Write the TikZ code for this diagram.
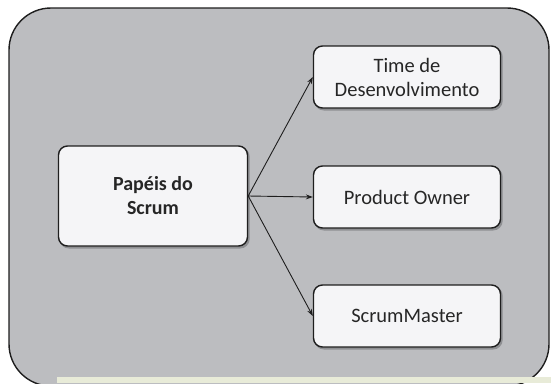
\documentclass[tikz,border=0pt]{standalone}
\usepackage{fontspec}
\setmainfont{Carlito}
\usetikzlibrary{arrows.meta}
\definecolor{panelgray}{HTML}{BCBDC0}
\definecolor{boxfill}{HTML}{F5F5F7}
\definecolor{stripcol}{HTML}{E8EBD8}
\definecolor{linecol}{HTML}{1E1E1E}
\definecolor{shadowcol}{HTML}{8E8F92}
\begin{document}
\begin{tikzpicture}[x=1pt,y=-1pt,
  rolebox/.style={draw=linecol,line width=1.4pt,fill=boxfill,rounded corners=9pt,
    minimum width=187pt,minimum height=62pt,align=center,font=\fontsize{20.5}{24}\selectfont,
    text=black!85,
    preaction={draw=shadowcol,fill=shadowcol,line width=1.4pt,transform canvas={shift={(1.5pt,-1.8pt)}}}},
  link/.style={draw=linecol,line width=0.9pt,-{Stealth[length=7pt,width=5pt]}}]
\useasboundingbox (0,0) rectangle (551,383);
\fill[white] (0,0) rectangle (551,383);
\draw[line width=1.4pt,draw=linecol,fill=panelgray,rounded corners=42pt] (9,8) rectangle (549,386);
\fill[stripcol] (57,377) rectangle (551,383);
\node[rolebox,minimum width=189pt,minimum height=100pt,font=\bfseries\fontsize{20}{24}\selectfont] (main) at (153,196) {Papéis do\\Scrum};
\node[rolebox] (time) at (407,77) {Time de\\Desenvolvimento};
\node[rolebox] (po) at (407,197) {Product Owner};
\node[rolebox] (sm) at (407,316) {ScrumMaster};
\draw[link] (main.east) -- (time.west);
\draw[link] (main.east) -- (po.west);
\draw[link] (main.east) -- (sm.west);
\end{tikzpicture}
\end{document}
